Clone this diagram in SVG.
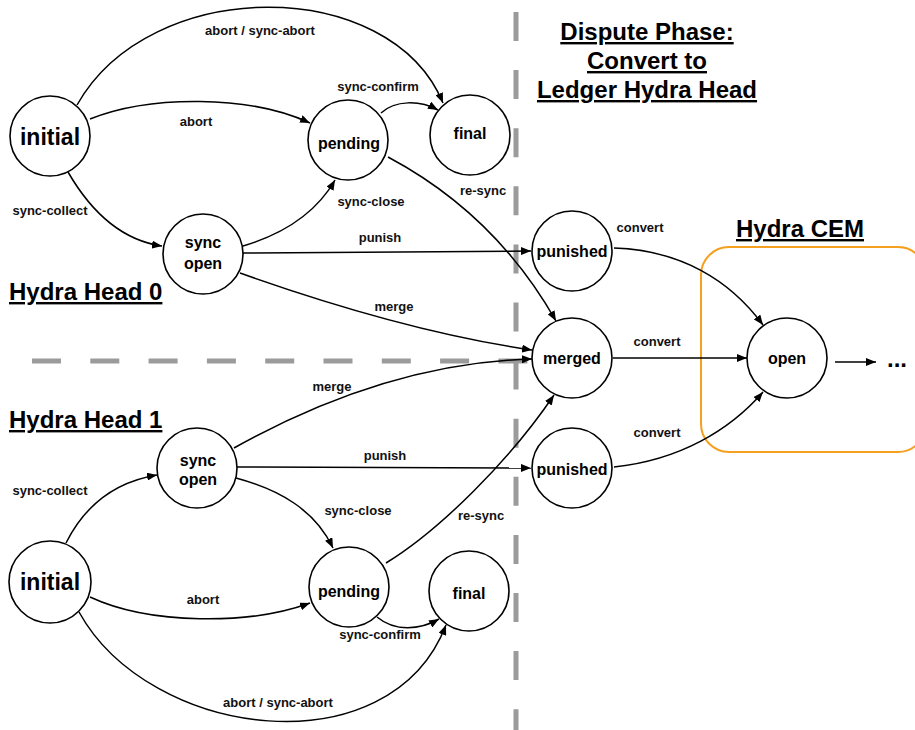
<svg xmlns="http://www.w3.org/2000/svg" width="915" height="730" viewBox="0 0 915 730">
<style>
.node circle{fill:#fff;stroke:#000;stroke-width:1.6}
.nl{font-family:"Liberation Sans",Arial,sans-serif;font-weight:bold;font-size:16px;text-anchor:middle;fill:#000}
.big{font-size:23px}
.el{font-family:"Liberation Sans",Arial,sans-serif;font-weight:bold;font-size:13px;text-anchor:middle;fill:#111}
.hd{font-family:"Liberation Sans",Arial,sans-serif;font-weight:bold;font-size:24px;fill:#000;text-decoration:underline}
.edge{fill:none;stroke:#000;stroke-width:1.5;marker-end:url(#ah)}
.dash{stroke:#9b9b9b;stroke-width:5;fill:none}
</style>
<defs>
<marker id="ah" markerWidth="10" markerHeight="8" refX="10" refY="4" orient="auto" markerUnits="userSpaceOnUse"><path d="M0,0 L10,4 L0,8 z" fill="#000"/></marker>
</defs>
<rect width="915" height="730" fill="#fff"/>
<g id="dividers">
<line class="dash" x1="32" y1="361" x2="528" y2="361" stroke-dasharray="29 29.3"/>
<line class="dash" x1="516" y1="12" x2="516" y2="730" stroke-dasharray="29 29.1" stroke-width="4.5"/>
</g>
<g id="cem-box"><rect x="701" y="247" width="225" height="205" rx="28" fill="none" stroke="#f5a01f" stroke-width="2"/></g>
<g id="headings">
<text class="hd" x="647" y="40" text-anchor="middle">Dispute Phase:</text>
<text class="hd" x="647" y="69" text-anchor="middle">Convert to</text>
<text class="hd" x="647" y="98" text-anchor="middle">Ledger Hydra Head</text>
<text class="hd" x="9" y="300">Hydra Head 0</text>
<text class="hd" x="9" y="428">Hydra Head 1</text>
<text class="hd" x="800" y="237" text-anchor="middle">Hydra CEM</text>
</g>
<g id="connectors">
<path class="edge" d="M77,105 C150,-25 390,-25 443,103"/>
<path class="edge" d="M90,119 C150,95 250,95 310,123"/>
<path class="edge" d="M68,172 C90,210 120,240 162,246"/>
<path class="edge" d="M381,113 C395,100 420,100 438,110"/>
<path class="edge" d="M243,246 C280,235 315,215 335,180"/>
<path class="edge" d="M388,157 C450,190 510,240 556,321"/>
<path class="edge" d="M243,253 L531,251"/>
<path class="edge" d="M240,273 C330,305 430,335 532,350"/>
<path class="edge" d="M234,448 C320,400 420,362 532,359"/>
<path class="edge" d="M237,467 L531,468"/>
<path class="edge" d="M66,543 C85,505 115,482 157,475"/>
<path class="edge" d="M236,478 C280,490 315,510 333,548"/>
<path class="edge" d="M386,563 C440,530 510,460 554,395"/>
<path class="edge" d="M90,597 C150,625 250,625 310,603"/>
<path class="edge" d="M377,617 C395,632 420,630 439,619"/>
<path class="edge" d="M79,612 C150,740 390,770 446,625"/>
<path class="edge" d="M614,248 C680,250 730,280 763,325"/>
<path class="edge" d="M613,358 L747,358"/>
<path class="edge" d="M614,467 C680,460 730,430 763,392"/>
<path class="edge" d="M835,362 L876,362"/>
</g>
<g id="edge-labels">
<text class="el" x="260" y="35">abort / sync-abort</text>
<text class="el" x="196" y="126">abort</text>
<text class="el" x="50" y="215">sync-collect</text>
<text class="el" x="378" y="91">sync-confirm</text>
<text class="el" x="483" y="195">re-sync</text>
<text class="el" x="371" y="206">sync-close</text>
<text class="el" x="380" y="242">punish</text>
<text class="el" x="394" y="311">merge</text>
<text class="el" x="332" y="391">merge</text>
<text class="el" x="385" y="460">punish</text>
<text class="el" x="640" y="232">convert</text>
<text class="el" x="657" y="346">convert</text>
<text class="el" x="657" y="437">convert</text>
<text class="el" x="50" y="495">sync-collect</text>
<text class="el" x="358" y="515">sync-close</text>
<text class="el" x="481" y="520">re-sync</text>
<text class="el" x="203" y="604">abort</text>
<text class="el" x="380" y="639">sync-confirm</text>
<text class="el" x="278" y="707">abort / sync-abort</text>
</g>
<g id="h0-initial" class="node"><circle cx="50" cy="136" r="40"/><text class="nl big" x="50" y="145">initial</text></g>
<g id="h0-pending" class="node"><circle cx="348" cy="140" r="40"/><text class="nl" x="349" y="149">pending</text></g>
<g id="h0-final" class="node"><circle cx="470" cy="135" r="40"/><text class="nl" x="470" y="139">final</text></g>
<g id="h0-syncopen" class="node"><circle cx="203" cy="254" r="40"/><text class="nl" x="203" y="248">sync</text><text class="nl" x="203" y="269">open</text></g>
<g id="h1-syncopen" class="node"><circle cx="197" cy="468" r="40"/><text class="nl" x="198" y="466">sync</text><text class="nl" x="198" y="485">open</text></g>
<g id="h1-initial" class="node"><circle cx="50" cy="582" r="41"/><text class="nl big" x="50" y="590">initial</text></g>
<g id="h1-pending" class="node"><circle cx="349" cy="587" r="40"/><text class="nl" x="349" y="597">pending</text></g>
<g id="h1-final" class="node"><circle cx="469" cy="591" r="40"/><text class="nl" x="469" y="599">final</text></g>
<g id="punished-0" class="node"><circle cx="572" cy="251" r="40"/><text class="nl" x="572" y="257">punished</text></g>
<g id="merged" class="node"><circle cx="572" cy="358" r="40"/><text class="nl" x="572" y="364">merged</text></g>
<g id="punished-1" class="node"><circle cx="572" cy="468" r="40"/><text class="nl" x="572" y="475">punished</text></g>
<g id="cem-open" class="node"><circle cx="787" cy="358" r="40"/><text class="nl" x="787" y="364">open</text></g>
<g id="ellipsis"><text class="nl" x="897" y="367" style="font-size:24px">...</text></g>
</svg>
